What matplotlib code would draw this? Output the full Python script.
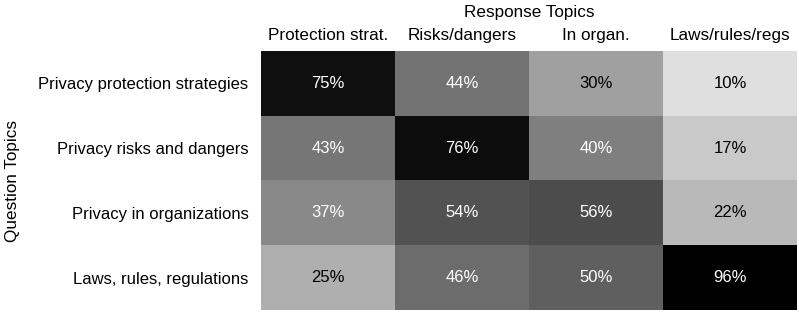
import numpy as np
import matplotlib
matplotlib.use('Agg')
import matplotlib.pyplot as plt

plt.rcParams['font.family'] = ['Liberation Sans', 'DejaVu Sans']

# Question topics (rows) and response topics (columns)
questions = ["Privacy protection strategies", "Privacy risks and dangers",
             "Privacy in organizations", "Laws, rules, regulations"]
responses = ["Protection strat.", "Risks/dangers", "In organ.", "Laws/rules/regs"]

row_protection = [0.75, 0.44, 0.30, 0.10]
row_risks = [0.43, 0.76, 0.40, 0.17]
row_organ = [0.37, 0.54, 0.56, 0.22]
row_laws = [0.25, 0.46, 0.50, 0.96]

vals = np.array([row_protection, row_risks, row_organ, row_laws])

fig = plt.figure(figsize=(7.99, 3.12), dpi=100)
ax = fig.add_axes([0.3267, 0.0064, 0.6708, 0.8301])
ax.imshow(vals, cmap='gray_r', vmin=0, vmax=0.8, aspect='auto', interpolation='nearest')

for i in range(vals.shape[0]):
    for j in range(vals.shape[1]):
        v = vals[i, j]
        col = 'white' if v > 0.35 else 'black'
        ax.text(j, i, "%d%%" % round(v*100), ha='center', va='center', color=col, fontsize=12)

ax.set_xticks(range(len(responses)))
ax.set_xticklabels(responses, fontsize=12.3)
ax.set_yticks(range(len(questions)))
ax.set_yticklabels(questions, fontsize=12)
ax.xaxis.tick_top()
ax.xaxis.set_label_position('top')
ax.tick_params(axis='x', length=0, pad=6)
ax.tick_params(axis='y', length=0, pad=9)
ax.set_xlabel("Response Topics", fontsize=12.3, labelpad=8)
fig.text(13/799, 0.0064 + 0.8301/2, "Question Topics", rotation=90,
         ha='center', va='center', fontsize=12.3)
for s in ax.spines.values():
    s.set_visible(False)

fig.savefig('out.png', dpi=100)
